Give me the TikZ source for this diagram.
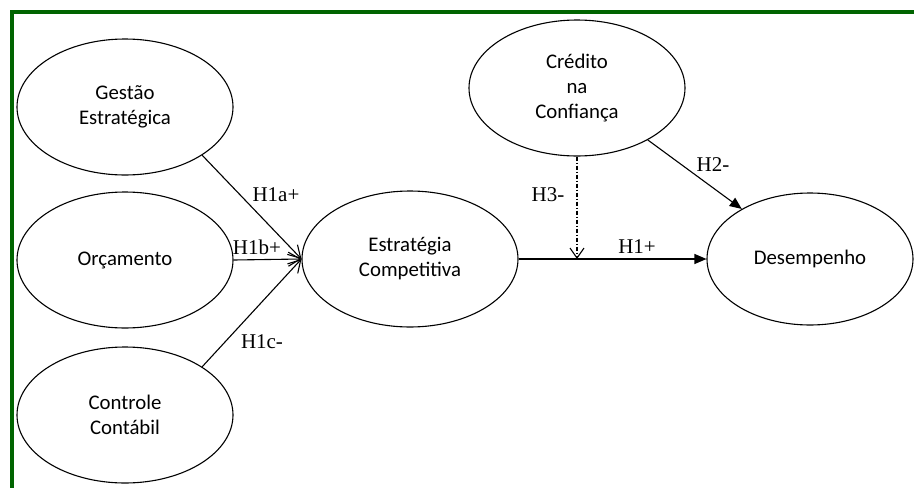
\documentclass[tikz,border=0pt]{standalone}
\usepackage{fontspec}
\setmainfont{Liberation Serif}
\newfontfamily\calib{Carlito}
\usetikzlibrary{shapes.geometric,positioning,arrows.meta}
\definecolor{framegreen}{RGB}{0,100,0}

\begin{document}
\begin{tikzpicture}[
        x=1pt, y=-1pt,
        >={Straight Barb[length=12pt, width=14pt, line width=1.1pt]}, % open heads
        construct/.style={draw, ellipse, line width=1.1pt, minimum width=216pt,
            minimum height=136pt, inner sep=0pt, align=center,
            font=\calib\fontsize{20.8}{25}\selectfont},
        hyp/.style={font=\fontsize{21}{24}\selectfont},
        link/.style={line width=1.1pt},
        solidhead/.style={-{Triangle[length=12pt, width=10pt]}},
    ]
        \useasboundingbox[fill=white] (0,0) rectangle (914,488);
        \draw[line width=4pt, framegreen] (914,12) -- (12,12) -- (12,488);

        % Constructs
        \node[construct] (gestao) at (125,107) {Gestão\\Estratégica};
        \node[construct] (orcam) at (125,260) {Orçamento};
        \node[construct] (controle) at (125,415) {Controle\\Contábil};
        \node[construct] (estrat) at (410,259) {Estratégia\\Competitiva};
        \node[construct] (credito) at (577,88) {Crédito\\na\\Confiança};
        \node[construct, minimum width=206pt, minimum height=132pt] (desemp) at (810,259) {Desempenho};

        % Hypotheses H1a, H1b, H1c
        \draw[link, ->] (gestao.-32) -- (estrat.west);
        \draw[link, ->] (orcam.east) -- (estrat.west);
        \draw[link, ->] (controle.32) -- (estrat.west);

        % H1, H2
        \draw[link, solidhead] (estrat.east) -- (desemp.west);
        \draw[link, solidhead] (credito) -- (desemp);

        % H3 (moderation)
        \coordinate (meet) at (credito.south |- estrat.east);
        \draw[link, dash pattern=on 4pt off 2pt on 1pt off 2pt,
            -{Straight Barb[length=10pt, width=14pt]}] (credito.south) -- (meet);

        % Labels
        \node[hyp] (h1a) at (276,195) {H1a+};
        \node[hyp] (h1b) at (257,247) {H1b+};
        \node[hyp] (h1c) at (262,342) {H1c-};
        \node[hyp] (h3) at (548,195) {H3-};
        \node[hyp] (h1) at (637,247) {H1+};
        \node[hyp] (h2) at (713,165) {H2-};
\end{tikzpicture}
\end{document}
